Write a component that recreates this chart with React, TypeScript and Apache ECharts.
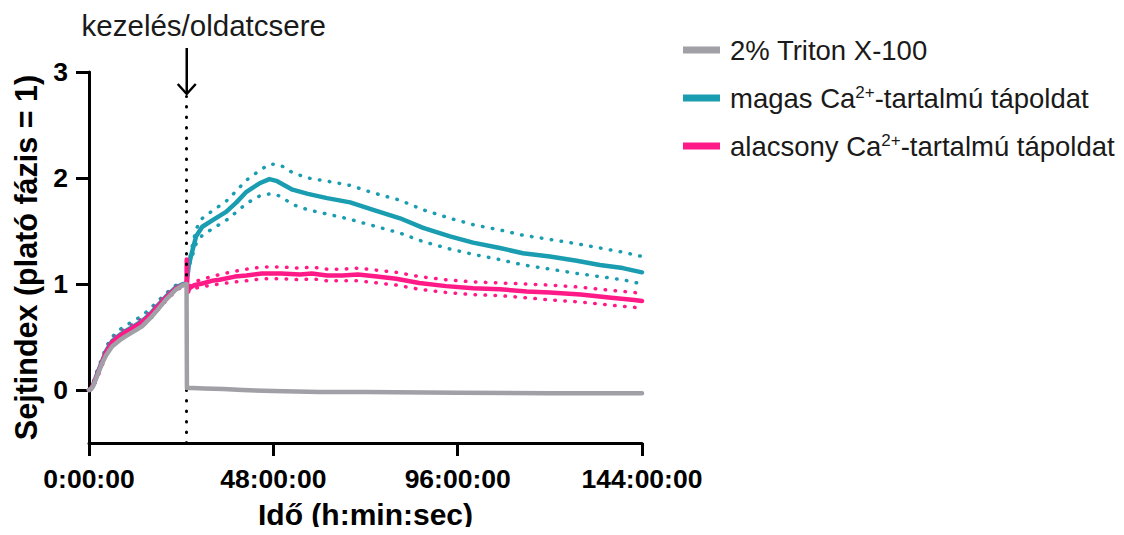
import React, { useEffect, useRef } from "react";
import * as echarts from "echarts";

// ---- data (time in hours, value = normalized cell index) ----
const TREATMENT_T = 25.45;

const PRE_T = [0, 0.5, 1, 2, 3.4, 4.5, 6, 8, 9.7, 12, 13.8, 16, 17.7, 20, 22.7, 24.5, 25.4];
const GRAY_PRE = [0, 0.01, 0.03, 0.12, 0.25, 0.33, 0.41, 0.47, 0.51, 0.56, 0.6, 0.68, 0.75, 0.85, 0.95, 0.99, 1.0];
const TEAL_PRE = [0, 0.01, 0.04, 0.14, 0.27, 0.37, 0.46, 0.52, 0.56, 0.61, 0.65, 0.72, 0.79, 0.88, 0.97, 1.0, 1.0];
const TEAL_PRE_HI = [0, 0.02, 0.06, 0.17, 0.3, 0.41, 0.5, 0.57, 0.61, 0.66, 0.7, 0.77, 0.83, 0.91, 0.99, 1.01, 1.0];
const TEAL_PRE_LO = [0, 0.0, 0.02, 0.11, 0.24, 0.33, 0.42, 0.47, 0.51, 0.56, 0.6, 0.67, 0.75, 0.85, 0.95, 0.99, 1.0];
const PINK_PRE = [0, 0.01, 0.04, 0.13, 0.26, 0.36, 0.45, 0.51, 0.55, 0.6, 0.64, 0.71, 0.78, 0.87, 0.96, 0.99, 1.0];
const PINK_PRE_HI = [0, 0.02, 0.06, 0.16, 0.29, 0.39, 0.48, 0.54, 0.58, 0.63, 0.67, 0.74, 0.81, 0.9, 0.98, 1.0, 1.0];
const PINK_PRE_LO = [0, 0.0, 0.02, 0.1, 0.23, 0.33, 0.42, 0.48, 0.52, 0.57, 0.61, 0.68, 0.75, 0.84, 0.94, 0.98, 1.0];

const GRAY_POST_T = [25.5, 27, 30, 35, 40, 48, 60, 72, 96, 120, 144];
const GRAY_POST = [0.02, 0.02, 0.015, 0.01, 0.0, -0.01, -0.02, -0.02, -0.025, -0.03, -0.03];

const TEAL_POST_T = [25.5, 26.0, 26.6, 27.9, 29.5, 32.1, 35.7, 38.4, 41, 44.4, 47, 49, 51, 53, 57, 62, 68, 74, 81, 87, 94, 100, 107, 113, 120, 127, 133, 139, 144];
const TEAL_POST = [1.0, 1.18, 1.27, 1.45, 1.54, 1.6, 1.68, 1.77, 1.87, 1.95, 1.99, 1.97, 1.93, 1.89, 1.85, 1.81, 1.77, 1.7, 1.62, 1.53, 1.45, 1.39, 1.34, 1.29, 1.26, 1.22, 1.18, 1.15, 1.11];
const TEAL_HI = [1.0, 1.2, 1.31, 1.52, 1.62, 1.69, 1.78, 1.88, 1.98, 2.07, 2.13, 2.13, 2.1, 2.05, 2.0, 1.97, 1.93, 1.86, 1.79, 1.7, 1.62, 1.56, 1.51, 1.46, 1.42, 1.38, 1.34, 1.3, 1.26];
const TEAL_LO = [1.0, 1.16, 1.23, 1.38, 1.46, 1.52, 1.6, 1.68, 1.76, 1.83, 1.85, 1.84, 1.8, 1.75, 1.7, 1.66, 1.61, 1.55, 1.48, 1.4, 1.33, 1.28, 1.23, 1.18, 1.14, 1.1, 1.07, 1.04, 1.0];

const PINK_POST_T = [25.45, 25.6, 26.5, 27.5, 29, 32, 34, 38, 41, 45, 50, 55, 58, 62, 66, 70, 75, 80, 86, 93, 100, 107, 114, 120, 128, 136, 142, 144];
const PINK_POST = [1.23, 0.93, 0.97, 0.99, 1.0, 1.03, 1.04, 1.07, 1.08, 1.1, 1.1, 1.09, 1.1, 1.08, 1.08, 1.09, 1.07, 1.05, 1.01, 0.98, 0.96, 0.95, 0.93, 0.92, 0.9, 0.87, 0.85, 0.84];
const PINK_HI = [1.0, 0.95, 0.99, 1.02, 1.04, 1.07, 1.09, 1.12, 1.14, 1.16, 1.16, 1.15, 1.16, 1.14, 1.14, 1.15, 1.13, 1.11, 1.07, 1.04, 1.02, 1.01, 1.0, 0.99, 0.97, 0.94, 0.92, 0.91];
const PINK_LO = [1.0, 0.91, 0.95, 0.96, 0.97, 0.99, 1.0, 1.02, 1.03, 1.05, 1.05, 1.04, 1.05, 1.03, 1.03, 1.03, 1.01, 0.99, 0.95, 0.92, 0.9, 0.89, 0.87, 0.85, 0.83, 0.8, 0.78, 0.77];

const Y_TICKS = [0, 1, 2, 3];

const NAME_GRAY = "2% Triton X-100";
const NAME_TEAL = "magas Ca²⁺-tartalmú tápoldat";
const NAME_PINK = "alacsony Ca²⁺-tartalmú tápoldat";
const ANNOTATION = "kezelés/oldatcsere";

const GRAY = "#A0A0A6";
const TEAL = "#1A9DB1";
const PINK = "#FF1A88";
const FONT = "'Liberation Sans', Arial, sans-serif";

const pairs = (t1: number[], v1: number[], t2: number[], v2: number[]) => [
  ...t1.map((t, i) => [t, v1[i]]),
  ...t2.map((t, i) => [t, v2[i]]),
];

export default function App() {
  const ref = useRef<HTMLDivElement>(null);
  useEffect(() => {
    if (!ref.current) return;
    const chart = echarts.init(ref.current, null, { renderer: "svg" });
    const dotted = (color: string) => ({
      color,
      width: 3.5,
      type: [0.5, 9.5],
      cap: "round",
    });
    const bound = (name: string, data: any[], color: string) => ({
      name,
      type: "line",
      data,
      showSymbol: false,
      symbol: "none",
      silent: true,
      itemStyle: { color },
      lineStyle: dotted(color),
      z: 2,
    });
    const main = (name: string, data: any[], color: string, z: number, extra: any = {}) => ({
      name,
      type: "line",
      data,
      showSymbol: false,
      symbol: "none",
      silent: true,
      itemStyle: { color },
      lineStyle: { color, width: 4.5, cap: "round", join: "round" },
      z,
      ...extra,
    });
    const axisText = { fontFamily: FONT, fontWeight: "bold", color: "#000" };
    const option: any = {
      animation: false,
      grid: { left: 89, right: 482, top: 72, bottom: 92, containLabel: false, outerBoundsMode: "none" },
      legend: {
        orient: "vertical",
        left: 678,
        top: 31,
        itemWidth: 37,
        itemHeight: 7,
        itemGap: 20,
        icon: "rect",
        selectedMode: false,
        data: [NAME_GRAY, NAME_TEAL, NAME_PINK],
        formatter: (n: string) => "{g|}" + n.replace("²⁺", "{sup|2+}"),
        textStyle: {
          fontFamily: FONT,
          fontSize: 27.5,
          lineHeight: 28,
          color: "#1a1a1a",
          rich: {
            g: { width: 5 },
            sup: { fontSize: 17, lineHeight: 17, verticalAlign: "top", fontFamily: FONT, color: "#1a1a1a" },
          },
        },
      },
      xAxis: {
        type: "value",
        min: 0,
        max: 144,
        interval: 48,
        splitLine: { show: false },
        axisLine: { onZero: false, lineStyle: { color: "#000", width: 3 } },
        axisTick: { show: true, length: 13, lineStyle: { color: "#000", width: 3 } },
        axisLabel: {
          ...axisText,
          fontSize: 26.5,
          margin: 22,
          formatter: (v: number) => `${v}:00:00`,
        },
        name: "Idő (h:min:sec)",
        nameLocation: "middle",
        nameGap: 56,
        nameTextStyle: { ...axisText, fontSize: 30 },
      },
      yAxis: {
        type: "value",
        min: -0.5,
        max: 3,
        splitLine: { show: false },
        axisLine: { show: true, onZero: false, lineStyle: { color: "#000", width: 3 } },
        axisTick: { show: true, length: 13, lineStyle: { color: "#000", width: 3 }, customValues: Y_TICKS },
        axisLabel: { ...axisText, fontSize: 26.5, margin: 21, customValues: Y_TICKS },
        name: "Sejtindex (plató fázis = 1)",
        nameLocation: "middle",
        nameGap: 48,
        nameTextStyle: { ...axisText, fontSize: 30.5 },
      },
      series: [
        bound("teal_hi", pairs(PRE_T, TEAL_PRE_HI, TEAL_POST_T, TEAL_HI), TEAL),
        bound("teal_lo", pairs(PRE_T, TEAL_PRE_LO, TEAL_POST_T, TEAL_LO), TEAL),
        bound("pink_hi", pairs(PRE_T, PINK_PRE_HI, PINK_POST_T, PINK_HI), PINK),
        bound("pink_lo", pairs(PRE_T, PINK_PRE_LO, PINK_POST_T, PINK_LO), PINK),
        main(NAME_TEAL, pairs(PRE_T, TEAL_PRE, TEAL_POST_T, TEAL_POST), TEAL, 3),
        main(NAME_PINK, pairs(PRE_T, PINK_PRE, PINK_POST_T, PINK_POST), PINK, 4),
        main(NAME_GRAY, pairs(PRE_T, GRAY_PRE, GRAY_POST_T, GRAY_POST), GRAY, 5, {
          markLine: {
            silent: true,
            symbol: "none",
            label: { show: false },
            lineStyle: { color: "#000", width: 3, type: [0.5, 10], cap: "round" },
            data: [[{ coord: [TREATMENT_T, -0.5] }, { coord: [TREATMENT_T, 2.77] }]],
          },
        }),
      ],
    };
    chart.setOption(option);
    const p = chart.convertToPixel({ gridIndex: 0 }, [TREATMENT_T, 3]) as number[];
    const x = p[0];
    chart.setOption({
      graphic: [
        {
          type: "text",
          x: x + 17,
          y: 25,
          style: {
            text: ANNOTATION,
            fontFamily: FONT,
            fontSize: 29.5,
            fill: "#1a1a1a",
            align: "center",
            verticalAlign: "middle",
          },
        },
        { type: "line", shape: { x1: x, y1: 48, x2: x, y2: 94 }, style: { stroke: "#000", lineWidth: 2.5 } },
        {
          type: "polyline",
          shape: { points: [[x - 9, 84], [x, 94], [x + 9, 84]] },
          style: { stroke: "#000", lineWidth: 2.5, fill: "none" },
        },
      ],
    });
    return () => chart.dispose();
  }, []);
  return <div ref={ref} style={{ width: 1124, height: 535, margin: -8 }} />;
}
